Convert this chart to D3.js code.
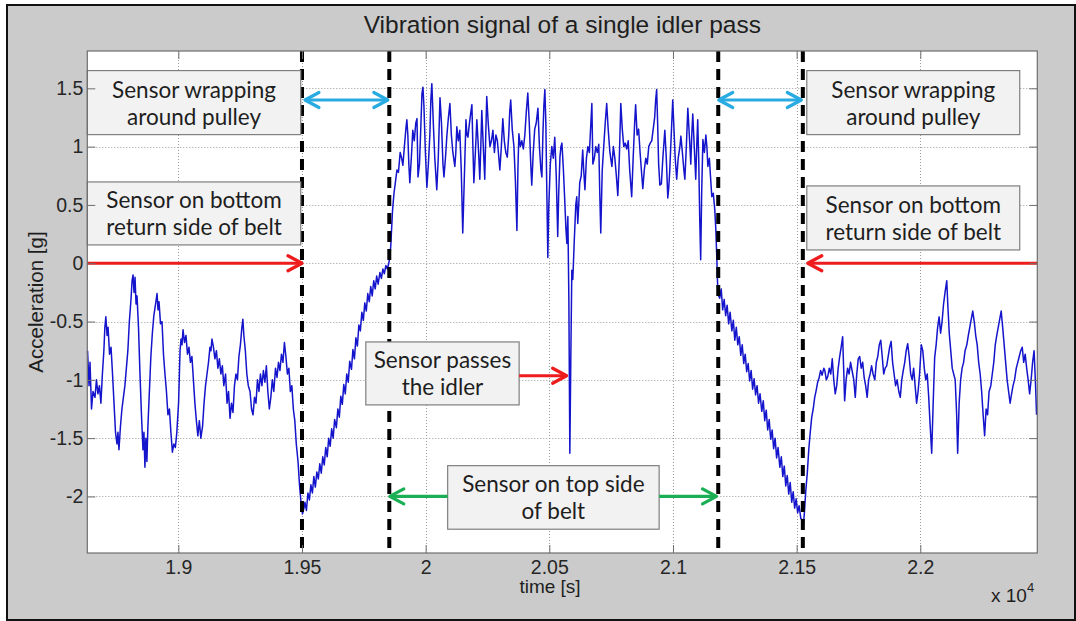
<!DOCTYPE html>
<html lang="en">
<head>
<meta charset="utf-8">
<title>Vibration signal of a single idler pass</title>
<script src="https://cdn.jsdelivr.net/npm/d3@7"></script>
<style>
  body { margin: 0; background: #fff; }
  svg { display: block; }
</style>
</head>
<body>
<script>
// trace: [time (axis shows x 10^4), acceleration g]
// belt return side, before the pulley
var returnSideIn = [[18633,-0.75],[18639,-1.05],[18643,-0.85],[18649,-1.25],[18655,-1.10],[18663,-1.15],[18669,-1.00],[18675,-1.12],[18681,-1.05],[18687,-1.20],[18693,-0.95],[18699,-0.75],[18703,-0.55],[18707,-0.46],[18712,-0.62],[18716,-0.55],[18722,-0.78],[18728,-0.72],[18734,-0.95],[18740,-1.20],[18746,-1.45],[18752,-1.55],[18756,-1.45],[18760,-1.60],[18766,-1.40],[18772,-1.25],[18778,-1.15],[18784,-1.05],[18790,-0.90],[18796,-0.75],[18802,-0.50],[18809,-0.30],[18813,-0.15],[18817,-0.10],[18821,-0.25],[18825,-0.12],[18829,-0.35],[18833,-0.28],[18839,-0.55],[18845,-0.95],[18851,-1.30],[18857,-1.60],[18861,-1.45],[18865,-1.75],[18869,-1.50],[18873,-1.70],[18877,-1.40],[18883,-1.10],[18889,-0.80],[18895,-0.60],[18901,-0.45],[18908,-0.35],[18914,-0.26],[18918,-0.40],[18922,-0.33],[18928,-0.52],[18934,-0.50],[18940,-0.78],[18946,-0.95],[18952,-1.10],[18958,-1.30],[18964,-1.25],[18970,-1.45],[18976,-1.62],[18982,-1.55],[18988,-1.58],[18994,-1.45],[19001,-1.20],[19007,-0.75],[19011,-0.65],[19015,-0.70],[19019,-0.57],[19025,-0.68],[19031,-0.62],[19037,-0.78],[19043,-0.72],[19049,-0.85],[19055,-0.80],[19061,-1.00],[19067,-1.20],[19073,-1.35],[19079,-1.48],[19085,-1.35],[19091,-1.50],[19098,-1.40],[19104,-1.20],[19110,-1.05],[19116,-0.95],[19122,-0.85],[19128,-0.72],[19132,-0.75],[19136,-0.65],[19142,-0.72],[19148,-0.82],[19154,-0.75],[19160,-0.90],[19166,-0.82],[19172,-0.95],[19178,-0.88],[19184,-1.05],[19191,-0.95],[19197,-1.20],[19203,-1.10],[19209,-1.33],[19215,-1.20],[19221,-1.28],[19227,-1.05],[19233,-0.95],[19239,-1.00],[19245,-0.80],[19251,-0.70],[19257,-0.55],[19261,-0.48],[19265,-0.62],[19271,-0.75],[19277,-0.95],[19283,-1.05],[19290,-1.10],[19296,-1.25],[19302,-1.30],[19308,-1.15],[19314,-1.20],[19320,-1.00],[19326,-1.10],[19332,-0.95],[19338,-1.05],[19344,-0.92],[19350,-1.02],[19356,-0.88],[19362,-1.10],[19368,-1.25],[19374,-1.15],[19380,-1.00],[19386,-1.10],[19393,-0.90],[19399,-0.98],[19405,-0.85],[19411,-0.92],[19417,-0.78],[19423,-0.85],[19429,-0.68],[19435,-0.80],[19441,-0.95],[19447,-0.90],[19453,-1.10],[19459,-1.05],[19465,-1.25],[19471,-1.35],[19477,-1.55],[19484,-1.70],[19490,-1.90],[19496,-2.05],[19502,-2.15],[19508,-2.10]];

// sensor wrapping around the first pulley
var wrapIn = [[19512,-2.05],[19518,-2.12],[19524,-1.97],[19530,-2.03],[19536,-1.90],[19542,-1.97],[19548,-1.83],[19554,-1.92],[19560,-1.79],[19566,-1.85],[19572,-1.72],[19578,-1.80],[19584,-1.66],[19590,-1.73],[19596,-1.58],[19602,-1.66],[19608,-1.50],[19614,-1.57],[19620,-1.42],[19626,-1.50],[19632,-1.34],[19639,-1.41],[19645,-1.25],[19651,-1.32],[19657,-1.14],[19663,-1.21],[19669,-1.04],[19675,-1.12],[19681,-0.95],[19687,-1.02],[19693,-0.84],[19700,-0.91],[19706,-0.74],[19712,-0.82],[19718,-0.64],[19724,-0.71],[19730,-0.53],[19736,-0.58],[19742,-0.42],[19748,-0.49],[19754,-0.34],[19760,-0.41],[19766,-0.26],[19772,-0.33],[19778,-0.20],[19784,-0.28],[19790,-0.15],[19796,-0.22],[19802,-0.11],[19808,-0.18],[19815,-0.08],[19821,-0.13],[19827,-0.05],[19833,-0.09],[19839,-0.02],[19845,-0.05],[19851,0.00],[19855,0.05]];

// sensor on the top side of the belt
var topSide = [[19859,0.15],[19866,0.45],[19872,0.60],[19878,0.70],[19884,0.80],[19890,0.78],[19897,0.95],[19903,0.90],[19908,0.84],[19914,1.00],[19920,1.15],[19924,1.23],[19928,1.10],[19932,0.85],[19936,0.69],[19942,0.90],[19948,1.14],[19954,1.05],[19960,1.20],[19965,1.24],[19969,0.74],[19975,0.85],[19981,1.20],[19985,1.45],[19989,1.51],[19993,1.35],[19999,0.95],[20005,0.65],[20011,0.85],[20017,1.10],[20021,1.40],[20025,1.54],[20031,1.20],[20037,0.90],[20045,0.63],[20051,0.90],[20058,1.42],[20064,1.20],[20070,0.85],[20074,0.74],[20080,0.90],[20086,1.10],[20092,1.25],[20098,1.37],[20104,1.10],[20110,0.95],[20118,0.83],[20122,0.95],[20126,1.17],[20132,1.05],[20138,1.14],[20144,0.80],[20150,0.26],[20156,0.70],[20163,1.23],[20167,1.10],[20171,1.08],[20177,1.20],[20183,1.30],[20187,1.36],[20191,1.00],[20195,0.69],[20201,0.95],[20207,1.23],[20213,1.00],[20219,0.72],[20223,1.00],[20227,1.31],[20233,1.00],[20239,0.72],[20243,1.10],[20247,1.43],[20253,1.20],[20260,1.00],[20266,1.05],[20272,1.14],[20278,0.95],[20284,1.10],[20290,1.05],[20296,0.90],[20300,0.80],[20306,1.00],[20312,1.24],[20318,1.05],[20324,0.95],[20330,0.91],[20336,1.10],[20340,1.30],[20344,1.40],[20350,1.15],[20357,1.00],[20363,0.70],[20369,0.28],[20373,0.80],[20377,1.11],[20383,1.00],[20389,1.05],[20395,0.98],[20401,1.10],[20407,1.30],[20413,1.46],[20419,1.20],[20425,0.85],[20429,0.67],[20435,0.95],[20441,1.15],[20447,1.20],[20454,1.33],[20460,1.00],[20466,0.80],[20470,0.74],[20474,1.10],[20478,1.35],[20482,1.49],[20486,1.20],[20490,0.60],[20494,0.05],[20498,0.50],[20504,0.85],[20510,1.00],[20516,0.90],[20522,1.08],[20528,0.75],[20534,0.23],[20538,0.60],[20543,0.91],[20547,1.00],[20551,1.03],[20557,0.80],[20563,0.51],[20567,0.30],[20571,0.17],[20575,0.40],[20579,-0.30],[20583,-1.63],[20587,-0.80],[20591,-0.06],[20595,-0.14],[20601,0.20],[20607,0.50],[20611,0.57],[20615,0.34],[20619,0.50],[20623,0.69],[20629,0.75],[20635,0.97],[20639,0.80],[20644,0.63],[20650,0.90],[20656,1.00],[20662,0.95],[20668,1.20],[20672,1.37],[20676,0.85],[20682,0.90],[20688,1.00],[20694,0.95],[20700,1.02],[20704,0.60],[20708,0.26],[20714,0.80],[20720,1.00],[20726,1.20],[20732,1.37],[20738,1.15],[20745,0.95],[20753,0.83],[20759,1.00],[20765,0.90],[20771,0.75],[20777,0.58],[20783,0.90],[20789,1.37],[20795,1.15],[20801,1.00],[20807,1.03],[20813,0.98],[20819,1.05],[20825,0.80],[20833,0.57],[20839,0.90],[20845,1.20],[20849,1.36],[20855,1.10],[20861,1.15],[20867,0.95],[20874,0.75],[20878,0.64],[20884,0.80],[20890,0.90],[20896,0.85],[20902,1.00],[20908,1.03],[20914,1.05],[20920,1.15],[20926,1.25],[20930,1.40],[20934,1.49],[20938,1.20],[20942,0.85],[20947,0.67],[20953,0.68],[20959,0.90],[20967,1.14],[20973,0.90],[20979,0.56],[20983,0.65],[20987,0.80],[20993,1.10],[20999,1.40],[21003,1.20],[21009,0.90],[21015,0.72],[21021,0.90],[21028,1.00],[21032,1.09],[21038,0.95],[21044,0.80],[21048,0.72],[21054,1.00],[21060,1.33],[21066,1.10],[21072,0.85],[21076,1.10],[21080,1.28],[21086,1.00],[21092,0.72],[21096,1.00],[21100,1.23],[21104,0.90],[21108,0.40],[21112,0.03],[21116,0.60],[21121,1.06],[21127,0.95],[21133,1.10],[21137,1.00],[21141,0.83],[21147,0.90],[21153,0.70],[21157,0.57],[21163,0.60],[21169,0.46],[21173,0.30],[21177,0.06],[21181,-0.22],[21185,-0.28]];

// sensor wrapping around the second pulley
var wrapOut = [[21189,-0.30],[21195,-0.22],[21201,-0.40],[21207,-0.31],[21213,-0.45],[21219,-0.36],[21225,-0.52],[21231,-0.42],[21238,-0.58],[21244,-0.49],[21250,-0.66],[21256,-0.55],[21262,-0.70],[21268,-0.63],[21274,-0.79],[21280,-0.70],[21286,-0.86],[21292,-0.78],[21298,-0.93],[21304,-0.86],[21310,-1.01],[21316,-0.92],[21322,-1.08],[21328,-0.99],[21334,-1.13],[21340,-1.05],[21346,-1.20],[21352,-1.12],[21359,-1.27],[21365,-1.18],[21371,-1.35],[21377,-1.26],[21383,-1.43],[21389,-1.34],[21395,-1.51],[21401,-1.43],[21407,-1.59],[21413,-1.50],[21419,-1.67],[21425,-1.58],[21432,-1.75],[21438,-1.66],[21444,-1.83],[21450,-1.74],[21456,-1.91],[21462,-1.82],[21468,-1.98],[21474,-1.88],[21480,-2.05],[21486,-1.96],[21492,-2.10],[21498,-2.02],[21504,-2.14],[21510,-2.08],[21517,-2.19],[21523,-2.20],[21527,-2.25],[21531,-2.15],[21537,-1.95],[21543,-1.80],[21549,-1.60],[21555,-1.45],[21561,-1.32],[21567,-1.25],[21573,-1.15],[21579,-1.09],[21585,-1.02],[21591,-0.98],[21597,-0.92],[21603,-0.96],[21610,-0.90]];

// belt return side, after the pulley
var returnSideOut = [[21614,-0.92],[21620,-1.00],[21626,-0.97],[21632,-0.90],[21638,-0.95],[21644,-0.82],[21650,-1.00],[21656,-1.12],[21662,-1.05],[21668,-0.90],[21674,-0.80],[21680,-0.72],[21686,-0.63],[21690,-0.90],[21694,-1.18],[21700,-1.00],[21706,-0.90],[21712,-0.95],[21718,-0.85],[21724,-0.92],[21731,-1.00],[21737,-1.15],[21743,-0.95],[21749,-0.82],[21755,-0.80],[21761,-0.90],[21767,-0.85],[21773,-0.98],[21779,-1.05],[21785,-1.15],[21791,-1.00],[21797,-0.95],[21803,-0.88],[21809,-0.95],[21816,-1.00],[21822,-0.85],[21828,-0.80],[21834,-0.70],[21840,-0.66],[21846,-0.80],[21852,-0.95],[21858,-0.90],[21864,-0.88],[21870,-0.80],[21876,-0.72],[21882,-0.67],[21888,-0.85],[21894,-0.95],[21900,-1.05],[21906,-1.00],[21913,-1.10],[21919,-1.15],[21925,-1.00],[21931,-0.92],[21937,-0.85],[21943,-0.75],[21949,-0.69],[21955,-0.80],[21961,-0.95],[21967,-1.00],[21973,-0.90],[21979,-1.05],[21985,-1.20],[21991,-1.10],[21997,-0.95],[22004,-0.70],[22010,-0.75],[22016,-0.90],[22022,-1.00],[22028,-0.95],[22034,-1.15],[22040,-1.40],[22046,-1.63],[22052,-1.20],[22058,-0.81],[22064,-0.70],[22070,-0.55],[22076,-0.46],[22082,-0.60],[22088,-0.50],[22094,-0.35],[22100,-0.25],[22107,-0.15],[22111,-0.35],[22117,-0.60],[22123,-0.75],[22129,-0.90],[22135,-0.95],[22141,-1.00],[22147,-1.30],[22151,-1.63],[22157,-1.20],[22163,-1.00],[22169,-0.90],[22175,-0.85],[22181,-0.75],[22188,-0.70],[22194,-0.62],[22200,-0.55],[22206,-0.48],[22212,-0.41],[22218,-0.50],[22224,-0.62],[22230,-0.70],[22236,-0.85],[22242,-0.95],[22248,-1.10],[22254,-1.30],[22260,-1.48],[22266,-1.25],[22272,-1.30],[22278,-1.10],[22285,-1.05],[22291,-0.95],[22297,-0.85],[22303,-0.70],[22309,-0.62],[22315,-0.55],[22321,-0.48],[22327,-0.41],[22333,-0.55],[22339,-0.70],[22345,-0.85],[22351,-1.00],[22357,-1.10],[22363,-1.20],[22369,-1.12],[22375,-1.05],[22381,-1.00],[22388,-0.90],[22394,-0.85],[22400,-0.80],[22406,-0.75],[22412,-0.72],[22418,-0.85],[22424,-0.78],[22430,-0.90],[22436,-1.00],[22442,-1.12],[22448,-1.00],[22454,-0.85],[22460,-0.75],[22466,-1.05],[22470,-1.30]];

// phase boundaries (dashed lines)
var boundaries = [19500, 19853, 21183, 21525];

var xTicks = [19000, 19500, 20000, 20500, 21000, 21500, 22000];
var yTicks = [-2, -1.5, -1, -0.5, 0, 0.5, 1, 1.5];

var xDomain = [18632, 22473];
var yDomain = [-2.485, 1.82];

// text boxes, placed in data units
var notes = [
  {lines: ["Sensor wrapping", "around pulley"], t: [18632, 19495], g: [1.652, 1.103]},
  {lines: ["Sensor on bottom", "return side of belt"], t: [18632, 19495], g: [0.697, 0.157]},
  {lines: ["Sensor wrapping", "around pulley"], t: [21541, 22402], g: [1.652, 1.103]},
  {lines: ["Sensor on bottom", "return side of belt"], t: [21541, 22402], g: [0.663, 0.114]},
  {lines: ["Sensor passes", "the idler"], t: [19758, 20378], g: [-0.675, -1.215]},
  {lines: ["Sensor on top side", "of belt"], t: [20089, 20944], g: [-1.736, -2.281]}
];

var red = "#ee1c1c", cyan = "#29abe2", green = "#1aaf54";
var arrows = [
  {from: [18632, 0], to: [19500, 0], color: red, both: false},
  {from: [22473, 0], to: [21545, 0], color: red, both: false},
  {from: [19512, 1.4], to: [19847, 1.4], color: cyan, both: true},
  {from: [21185, 1.4], to: [21519, 1.4], color: cyan, both: true},
  {from: [20378, -0.965], to: [20570, -0.965], color: red, both: false},
  {from: [20089, -2.0], to: [19855, -2.0], color: green, both: false},
  {from: [20944, -2.0], to: [21176, -2.0], color: green, both: false}
];

var W = 1076, H = 621;
var svg = d3.select("body").append("svg")
  .attr("width", W)
  .attr("height", H);

// figure background with border
svg.append("rect")
  .attr("x", 7).attr("y", 5)
  .attr("width", 1068).attr("height", 615)
  .attr("fill", "#cbcbcb")
  .attr("stroke", "#111")
  .attr("stroke-width", 2);

var x = d3.scaleLinear().domain(xDomain).range([87.3, 1037.3]);
var y = d3.scaleLinear().domain(yDomain).range([553, 51]);

var x0 = x.range()[0], x1 = x.range()[1];
var yTop = y.range()[1], yBot = y.range()[0];

svg.append("rect")
  .attr("x", x0).attr("y", yTop)
  .attr("width", x1 - x0).attr("height", yBot - yTop)
  .attr("fill", "#fff");

// dotted grid
var grid = svg.append("g").attr("stroke", "#9a9a9a").attr("stroke-width", 1).attr("stroke-dasharray", "1,2");
grid.selectAll(".gx").data(xTicks).enter().append("line")
  .attr("x1", function(d) { return Math.round(x(d)) + 0.5; })
  .attr("x2", function(d) { return Math.round(x(d)) + 0.5; })
  .attr("y1", yTop).attr("y2", yBot);
grid.selectAll(".gy").data(yTicks).enter().append("line")
  .attr("y1", function(d) { return Math.round(y(d)) + 0.5; })
  .attr("y2", function(d) { return Math.round(y(d)) + 0.5; })
  .attr("x1", x0).attr("x2", x1);

// the signal
var signal = [].concat(returnSideIn, wrapIn, topSide, wrapOut, returnSideOut);
var line = d3.line()
  .x(function(d) { return x(d[0]); })
  .y(function(d) { return y(d[1]); });

svg.append("path")
  .datum(signal)
  .attr("d", line)
  .attr("fill", "none")
  .attr("stroke", "#1414cc")
  .attr("stroke-width", 1.5)
  .attr("stroke-linejoin", "round");

// phase boundaries
svg.selectAll(".bound").data(boundaries).enter().append("line")
  .attr("x1", function(d) { return x(d); })
  .attr("x2", function(d) { return x(d); })
  .attr("y1", yTop).attr("y2", yBot - 4)
  .attr("stroke", "#000")
  .attr("stroke-width", 4)
  .attr("stroke-dasharray", "11,7");

// annotation boxes
var boxes = svg.selectAll(".note").data(notes).enter().append("g");
boxes.append("rect")
  .attr("x", function(d) { return x(d.t[0]); })
  .attr("y", function(d) { return y(d.g[0]); })
  .attr("width", function(d) { return x(d.t[1]) - x(d.t[0]); })
  .attr("height", function(d) { return y(d.g[1]) - y(d.g[0]); })
  .attr("fill", "#f2f2f2")
  .attr("stroke", "#7f7f7f")
  .attr("stroke-width", 1.2);
boxes.each(function(d) {
  var cx = (x(d.t[0]) + x(d.t[1])) / 2;
  var cy = (y(d.g[0]) + y(d.g[1])) / 2;
  d3.select(this).selectAll("text").data(d.lines).enter().append("text")
    .attr("x", cx)
    .attr("y", function(s, i) { return cy - 5 + i * 27; })
    .attr("text-anchor", "middle")
    .attr("font-family", "Lato, 'Open Sans', sans-serif")
    .attr("font-size", 22.5)
    .attr("fill", "#1e1e1e")
    .text(function(s) { return s; });
});

// arrows with open heads
function head(g, px, py, ux, uy, color) {
  var len = 14, half = 7.5;
  var bx = px - ux * len, by = py - uy * len;
  g.append("path")
    .attr("d", "M" + (bx - uy * half) + "," + (by + ux * half) + "L" + px + "," + py + "L" + (bx + uy * half) + "," + (by - ux * half))
    .attr("fill", "none")
    .attr("stroke", color)
    .attr("stroke-width", 3.2)
    .attr("stroke-linecap", "round")
    .attr("stroke-linejoin", "round");
}
arrows.forEach(function(a) {
  var g = svg.append("g");
  var ax = x(a.from[0]), ay = y(a.from[1]);
  var bx = x(a.to[0]), by = y(a.to[1]);
  var L = Math.hypot(bx - ax, by - ay);
  var ux = (bx - ax) / L, uy = (by - ay) / L;
  g.append("line")
    .attr("x1", ax).attr("y1", ay).attr("x2", bx).attr("y2", by)
    .attr("stroke", a.color).attr("stroke-width", 3.2);
  head(g, bx, by, ux, uy, a.color);
  if (a.both) head(g, ax, ay, -ux, -uy, a.color);
});

// axes, MATLAB style: ticks inside on all four sides, plain hyphen minus
var axisColor = "#6e6e6e";
var fmtX = function(d) { return String(d / 1e4); };
var fmtY = function(d) { return String(d); };

var gx = svg.append("g").attr("transform", "translate(0," + yBot + ")")
  .call(d3.axisBottom(x).tickValues(xTicks).tickFormat(fmtX).tickSizeInner(-8).tickSizeOuter(0).tickPadding(7));
var gxTop = svg.append("g").attr("transform", "translate(0," + yTop + ")")
  .call(d3.axisTop(x).tickValues(xTicks).tickFormat("").tickSizeInner(-8).tickSizeOuter(0));
var gy = svg.append("g").attr("transform", "translate(" + x0 + ",0)")
  .call(d3.axisLeft(y).tickValues(yTicks).tickFormat(fmtY).tickSizeInner(-8).tickSizeOuter(0).tickPadding(4));
var gyR = svg.append("g").attr("transform", "translate(" + x1 + ",0)")
  .call(d3.axisRight(y).tickValues(yTicks).tickFormat("").tickSizeInner(-8).tickSizeOuter(0));

[gx, gxTop, gy, gyR].forEach(function(g) {
  g.select(".domain").remove();
  g.selectAll("line").attr("stroke", axisColor);
  g.selectAll("text")
    .attr("font-family", "'Liberation Sans', Arial, sans-serif")
    .attr("font-size", 19.5)
    .attr("fill", "#262626");
});

svg.append("rect")
  .attr("x", x0).attr("y", yTop)
  .attr("width", x1 - x0).attr("height", yBot - yTop)
  .attr("fill", "none")
  .attr("stroke", axisColor)
  .attr("stroke-width", 1.2);

// labels
var sans = "'Liberation Sans', Arial, sans-serif";
svg.append("text")
  .attr("x", (x0 + x1) / 2).attr("y", 33)
  .attr("text-anchor", "middle")
  .attr("font-family", sans).attr("font-size", 24.5)
  .attr("fill", "#1e1e1e")
  .text("Vibration signal of a single idler pass");

svg.append("text")
  .attr("x", 550).attr("y", 593)
  .attr("text-anchor", "middle")
  .attr("font-family", sans).attr("font-size", 19)
  .attr("fill", "#1e1e1e")
  .text("time [s]");

svg.append("text")
  .attr("transform", "translate(43," + ((yTop + yBot) / 2) + ") rotate(-90)")
  .attr("text-anchor", "middle")
  .attr("font-family", sans).attr("font-size", 20.5)
  .attr("fill", "#1e1e1e")
  .text("Acceleration [g]");

var expo = svg.append("text")
  .attr("x", 991).attr("y", 602)
  .attr("font-family", sans).attr("font-size", 19)
  .attr("fill", "#1e1e1e");
expo.append("tspan").text("x 10");
expo.append("tspan").attr("dy", -10).attr("font-size", 13).text("4");
</script>
</body>
</html>
